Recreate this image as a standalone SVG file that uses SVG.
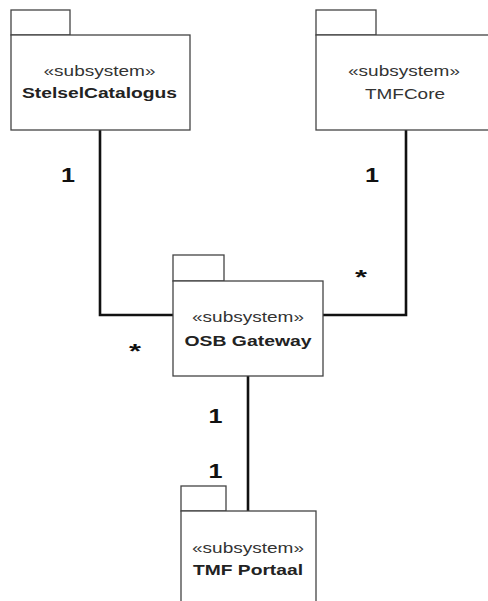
<svg xmlns="http://www.w3.org/2000/svg" width="488" height="601" viewBox="0 0 488 601">
<style>
.box{fill:#fff;stroke:#444;stroke-width:1.3}
.st{font-family:"Liberation Sans",Arial,sans-serif;font-size:14.5px;fill:#333;text-anchor:middle}
.nm{font-family:"Liberation Sans",Arial,sans-serif;font-size:14.5px;fill:#222;text-anchor:middle;font-weight:bold}
.nr{font-family:"Liberation Sans",Arial,sans-serif;font-size:14.5px;fill:#333;text-anchor:middle}
.conn{fill:none;stroke:#111;stroke-width:2.6}
.lbl{font-family:"Liberation Sans",Arial,sans-serif;font-size:21px;font-weight:bold;fill:#111;text-anchor:middle}
</style>
<rect width="488" height="601" fill="#fff"/>
<g id="connectors">
<polyline class="conn" points="100,130 100,315 173,315"/>
<polyline class="conn" points="406,130 406,315 323,315"/>
<line class="conn" x1="248" y1="376" x2="248" y2="511"/>
<text class="lbl" x="68" y="182" textLength="14" lengthAdjust="spacingAndGlyphs">1</text>
<text class="lbl" x="135" y="358" textLength="12" lengthAdjust="spacingAndGlyphs">*</text>
<text class="lbl" x="372" y="182" textLength="14" lengthAdjust="spacingAndGlyphs">1</text>
<text class="lbl" x="361" y="284" textLength="12" lengthAdjust="spacingAndGlyphs">*</text>
<text class="lbl" x="215.5" y="423" textLength="14" lengthAdjust="spacingAndGlyphs">1</text>
<text class="lbl" x="215.5" y="478" textLength="14" lengthAdjust="spacingAndGlyphs">1</text>
</g>
<g id="StelselCatalogus">
<rect class="box" x="11" y="10" width="59" height="25"/>
<rect class="box" x="11" y="35" width="179" height="95"/>
<text class="st" x="99.5" y="76" textLength="112" lengthAdjust="spacingAndGlyphs">«subsystem»</text>
<text class="nm" x="99.5" y="98" textLength="155" lengthAdjust="spacingAndGlyphs">StelselCatalogus</text>
</g>
<g id="TMFCore">
<rect class="box" x="316" y="10" width="60" height="25"/>
<rect class="box" x="316" y="35" width="178" height="95"/>
<text class="st" x="404" y="76" textLength="112" lengthAdjust="spacingAndGlyphs">«subsystem»</text>
<text class="nr" x="405" y="99" textLength="80" lengthAdjust="spacingAndGlyphs">TMFCore</text>
</g>
<g id="OSBGateway">
<rect class="box" x="173" y="255" width="51" height="26"/>
<rect class="box" x="173" y="281" width="150" height="95"/>
<text class="st" x="248" y="322" textLength="112" lengthAdjust="spacingAndGlyphs">«subsystem»</text>
<text class="nm" x="248" y="346" textLength="127" lengthAdjust="spacingAndGlyphs">OSB Gateway</text>
</g>
<g id="TMFPortaal">
<rect class="box" x="181" y="486" width="45" height="25"/>
<rect class="box" x="181" y="511" width="135" height="100"/>
<text class="st" x="248" y="553" textLength="112" lengthAdjust="spacingAndGlyphs">«subsystem»</text>
<text class="nm" x="248" y="575" textLength="110" lengthAdjust="spacingAndGlyphs">TMF Portaal</text>
</g>
</svg>
